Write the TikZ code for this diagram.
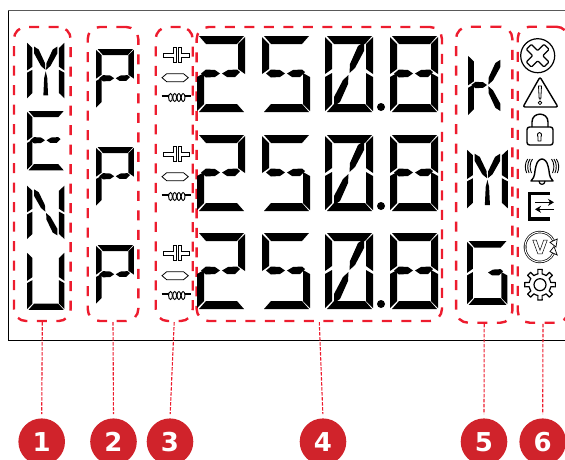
\documentclass[tikz,border=0pt]{standalone}
\usepackage{fontspec}
\setmainfont{DejaVu Sans}
\usetikzlibrary{arrows.meta,shapes.geometric}
\definecolor{alarmred}{RGB}{237,28,46}
\definecolor{dotred}{RGB}{208,35,43}
% segments of one glyph, 48 wide and 76 high
\def\segA{(2,0)--(47,0)--(40,8)--(9,8)--cycle}
\def\segB{(48,1)--(48,38)--(41,33)--(41,8)--cycle}
\def\segC{(41,37)--(48,41)--(48,75)--(41,68)--cycle}
\def\segD{(2,76)--(9,68)--(40,68)--(47,76)--cycle}
\def\segE{(0,41)--(7,37)--(7,68)--(0,75)--cycle}
\def\segF{(0,1)--(7,8)--(7,33)--(0,38)--cycle}
\def\segL{(4,37.5)--(9,33.5)--(18,34)--(23,37.5)--(18,41)--(9,41.5)--cycle}
\def\segR{(25,37.5)--(31,34)--(40,33.5)--(43,36)--(38,41)--(30,41)--cycle}
\def\segH{(9,6)--(15,10)--(23,28)--(23.5,37)--(18,32)--(9,15)--cycle}
\def\segI{(39,6)--(39,15)--(30,32)--(24.5,37)--(25,28)--(33,10)--cycle}
\def\segJ{(9,70)--(9,61)--(18,44)--(23.5,39)--(23,48)--(15,66)--cycle}
\def\segK{(39,70)--(33,66)--(25,48)--(24.5,39)--(30,44)--(39,61)--cycle}
\def\segM{(24,39)--(26,48)--(27,71)--(21,71)--(22,48)--cycle}
\newcommand{\lcdseg}[1]{\expandafter\let\expandafter\curseg\csname seg#1\endcsname\fill \curseg;}
\newcommand{\lcdchar}[5]{%
  \begin{scope}[shift={(#1,#2)},xscale=#3,yscale=#4]
    \foreach \s in {#5} {\lcdseg{\s}}
  \end{scope}}
\begin{document}
\begin{tikzpicture}[
  x=1pt, y=-1pt,
  groupbox/.style={draw=alarmred, line width=2.4pt, rounded corners=12pt, dash pattern=on 10pt off 9.5pt, inner sep=0pt},
  leader/.style={draw=alarmred, line width=1.1pt, dash pattern=on 3.5pt off 1.5pt, shorten >=4pt},
  numdot/.style={circle, fill=dotred, text=white, font=\bfseries\fontsize{26}{26}\selectfont, minimum size=46.6pt, inner sep=0pt},
  icon/.style={draw=black, line width=1.2pt, line join=round},
  thinicon/.style={draw=black, line width=0.7pt, fill=white}
]
\clip (0,0) rectangle (565,459);
% panel
\draw[line width=1pt] (565,340.5) -- (8.5,340.5) -- (8.5,10.5);
\draw[line width=1.2pt, black!65] (8,10.5) -- (565,10.5);
% groups
\foreach \id/\cx/\cy/\w/\h in {1/42.3/174/56.7/294,2/113/174/50.6/294,3/174.2/174/37/294,4/319.3/174/245.3/294,5/484.2/174.7/56.3/296,6/543/174.7/50.6/296} {
  \node[groupbox, minimum width=\w pt, minimum height=\h pt] (box\id) at (\cx,\cy) {};
}
\foreach \id/\x in {1/41.7,2/113.5,3/170,4/323,5/484,6/542.7} {
  \node[numdot] (num\id) at (\x,441.7) {\id};
  \draw[leader] (box\id.south) -- (num\id.north);
}
% menu column
\lcdchar{27}{42}{0.78}{0.75}{F,B,E,C,H,I,M}
\lcdchar{27}{111}{0.78}{0.78}{A,F,E,D,L,R}
\lcdchar{27}{185}{0.78}{0.72}{F,E,B,C,H,K}
\lcdchar{27}{252}{0.78}{0.76}{F,E,B,C,D}
% P column
\foreach \y in {49,147,245} {
  \lcdchar{96}{\y}{0.79}{0.78}{A,F,E,B,L,R}
}
% digits
\foreach \y in {36,135,233} {
  \lcdchar{197}{\y}{1}{1}{A,B,L,R,E,D}
  \lcdchar{262}{\y}{1}{1}{A,F,L,R,C,D}
  \lcdchar{325}{\y}{1}{1}{A,B,C,D,E,F,I,J}
  \lcdchar{390}{\y}{1}{1}{A,B,C,D,E,F,L,R}
  \fill (381,\y+71) circle (4pt);
}
% unit column
\lcdchar{468}{55}{0.83}{0.8}{F,E,L,I,K}
\lcdchar{467}{149}{0.85}{0.79}{F,B,E,C,H,I,M}
\lcdchar{467}{241}{0.84}{0.84}{A,F,E,D,C,R}
% coupling symbols
\foreach \r in {0,99,198} {
  \begin{scope}[shift={(0,\r)}]
    \draw[thinicon] (163,53.3) -- (173.5,53.3) -- (173.5,47.7) -- (176.5,47.7) -- (176.5,62.3) -- (173.5,62.3) -- (173.5,57) -- (163,57) -- cycle;
    \draw[thinicon] (189,53.3) -- (181,53.3) -- (181,47.7) -- (178,47.7) -- (178,62.3) -- (181,62.3) -- (181,57) -- (189,57) -- cycle;
    \draw[thinicon, line width=0.8pt] (162,77.7) -- (166.7,73.7) -- (183.5,73.7) -- (188.3,77.7) -- (183.5,81.7) -- (166.7,81.7) -- cycle;
    \draw[line width=1.5pt] (161.5,96) -- (169,96);
    \draw[line width=1.5pt] (185,96) -- (191,96);
    \foreach \cx in {170.5,174.7,178.9,183.1} {
      \draw[line width=0.9pt] (\cx,97.5) ellipse (1.9pt and 4pt);
    }
  \end{scope}
}
% status icons
\begin{scope}[shift={(537.7,55.7)}]
  \draw[icon] (0,0) circle (17pt);
  \draw[icon, rotate=45, rounded corners=1pt] (-3.6,-12.5) -- (3.6,-12.5) -- (3.6,-3.6) -- (12.5,-3.6) -- (12.5,3.6) -- (3.6,3.6) -- (3.6,12.5) -- (-3.6,12.5) -- (-3.6,3.6) -- (-12.5,3.6) -- (-12.5,-3.6) -- (-3.6,-3.6) -- cycle;
\end{scope}
\draw[icon, line width=1.4pt, rounded corners=2pt] (540,77) -- (558,107) -- (523,107) -- cycle;
\draw[icon, line width=0.8pt] (538.5,86) -- (541.5,86) -- (540.8,99) -- (539.2,99) -- cycle;
\draw[icon, line width=0.8pt] (540,102.8) circle (1.8pt);
\draw[icon, line width=1.4pt, rounded corners=2.5pt] (527,127) rectangle (553,145);
\draw[icon, line width=1.4pt] (532,127) -- (532,122) .. controls (532,111.5) and (548,111.5) .. (548,122) -- (548,127);
\draw[icon, line width=0.9pt] (538,137) .. controls (535.5,131) and (543.5,131) .. (541,137) -- (541,141) -- (538,141) -- cycle;
% bell
\draw[icon, line width=1.4pt] (531,181) .. controls (536,176) and (534,172) .. (536,166) .. controls (537,161) and (540,159) .. (542,159) .. controls (544,159) and (547,161) .. (548,166) .. controls (550,172) and (548,176) .. (553,181) -- cycle;
\draw[icon] (539,181) .. controls (539,185.5) and (545,185.5) .. (545,181);
\foreach \d in {0,2.4,4.8} {
  \draw[line width=0.9pt] (532.5-\d,159) .. controls (529.5-\d,163) and (529.5-\d,169) .. (531.5-\d,173);
  \draw[line width=0.9pt] (551.5+\d,159) .. controls (554.5+\d,163) and (554.5+\d,169) .. (552.5+\d,173);
}
% export
\draw[line width=3.4pt] (550,193.4) -- (529.4,193.4) -- (529.4,219) -- (550,219);
\draw[line width=1.3pt, -{Stealth[length=6pt,width=7pt]}] (535,202.3) -- (554,202.3);
\draw[line width=1.3pt, -{Stealth[length=6pt,width=7pt]}] (554,209.3) -- (535,209.3);
% voltage
\begin{scope}[shift={(540,247)}]
  \draw[line width=0.7pt, double, double distance=1pt] (185:15pt) arc[start angle=185, end angle=25, radius=15pt];
  \draw[line width=0.7pt, double, double distance=1pt] (175:15pt) arc[start angle=175, end angle=335, radius=15pt];
  \draw[thinicon] (25:19pt) -- (25:11pt) -- (0:16pt) -- cycle;
  \draw[thinicon] (335:19pt) -- (335:11pt) -- (2:14pt) -- cycle;
  \node[inner sep=0pt, font=\bfseries\fontsize{19}{19}\selectfont] (vmark) at (0,0) {\special{pdf:literal direct 1 Tr 0.5 w}V\special{pdf:literal direct 0 Tr}};
\end{scope}
% gear
\begin{scope}[shift={(540,284.7)}]
  \draw[icon] (0,0) circle (6pt);
  \foreach \a in {0,45,...,315} {
    \draw[icon] (\a-22.5:11pt) -- (\a-11:11pt) -- (\a-8:15.5pt) -- (\a+8:15.5pt) -- (\a+11:11pt) -- (\a+22.5:11pt);
  }
\end{scope}
\end{tikzpicture}
\end{document}
